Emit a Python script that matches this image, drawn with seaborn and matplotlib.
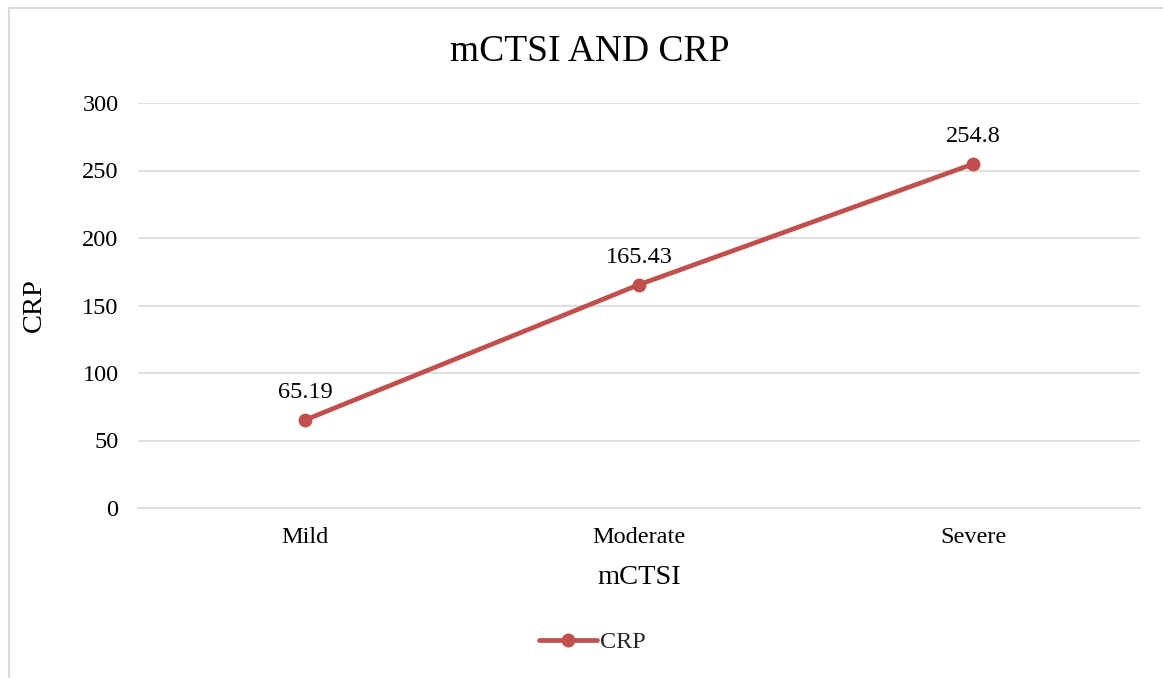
import matplotlib
matplotlib.use("Agg")
import matplotlib.pyplot as plt
import pandas as pd
import seaborn as sns

# CRP level by mCTSI severity grade
categories = ["Mild", "Moderate", "Severe"]
crp_values = [65.19, 165.43, 254.8]
value_labels = ["65.19", "165.43", "254.8"]
y_ticks = [0, 50, 100, 150, 200, 250, 300]

df = pd.DataFrame({"mCTSI": categories, "CRP": crp_values})

sns.set_theme(style="white")
plt.rcParams["font.family"] = ["Liberation Serif", "DejaVu Serif"]

W, H = 1163, 678
fig = plt.figure(figsize=(W / 100, H / 100), dpi=100)
ax = fig.add_axes([138 / W, 1 - 508 / H, (1140 - 138) / W, (508 - 103) / H])

red = "#C0504D"
grid = "#D9D9D9"

sns.lineplot(data=df, x="mCTSI", y="CRP", ax=ax, color=red, linewidth=3.4,
             marker="o", markersize=10, markeredgewidth=0, sort=False,
             label="CRP", clip_on=False, zorder=3)

ax.set_xlim(-0.5, 2.5)
ax.set_ylim(0, 300)
ax.set_yticks(y_ticks)
ax.set_yticklabels([str(v) for v in y_ticks], fontsize=17.5, color="#000000")
ax.tick_params(axis="x", labelsize=17.5, colors="#000000", pad=14, length=0)
ax.tick_params(axis="y", pad=14, length=0)
ax.yaxis.grid(True, color=grid, linewidth=1.2)
ax.set_axisbelow(True)
for s in ["left", "right", "top"]:
    ax.spines[s].set_visible(False)
ax.spines["bottom"].set_color(grid)
ax.spines["bottom"].set_linewidth(1.2)

ax.set_xlabel("mCTSI", fontsize=20.5, color="#000000", labelpad=12)
ax.set_ylabel("CRP", fontsize=20.5, color="#000000", labelpad=25)

for i, (v, t) in enumerate(zip(crp_values, value_labels)):
    ax.annotate(t, (i, v), xytext=(0, 12), textcoords="offset points",
                ha="center", va="bottom", fontsize=17.5, color="#000000")

fig.text(590 / W, 1 - 52 / H, "mCTSI AND CRP", ha="center", va="center",
         fontsize=27, color="#000000")

leg = ax.legend(loc="center", bbox_to_anchor=(592 / W, 1 - 642 / H),
                bbox_transform=fig.transFigure, frameon=False, fontsize=17.5,
                handlelength=2.4, handletextpad=0.1)

# chart area border (left and top edges)
fig.add_artist(plt.Line2D([8.5 / W, 8.5 / W], [0, 1 - 7.5 / H],
                          transform=fig.transFigure, color=grid, linewidth=1.5))
fig.add_artist(plt.Line2D([8.5 / W, 1], [1 - 7.5 / H, 1 - 7.5 / H],
                          transform=fig.transFigure, color=grid, linewidth=1.5))

fig.savefig("out.png", dpi=100)
